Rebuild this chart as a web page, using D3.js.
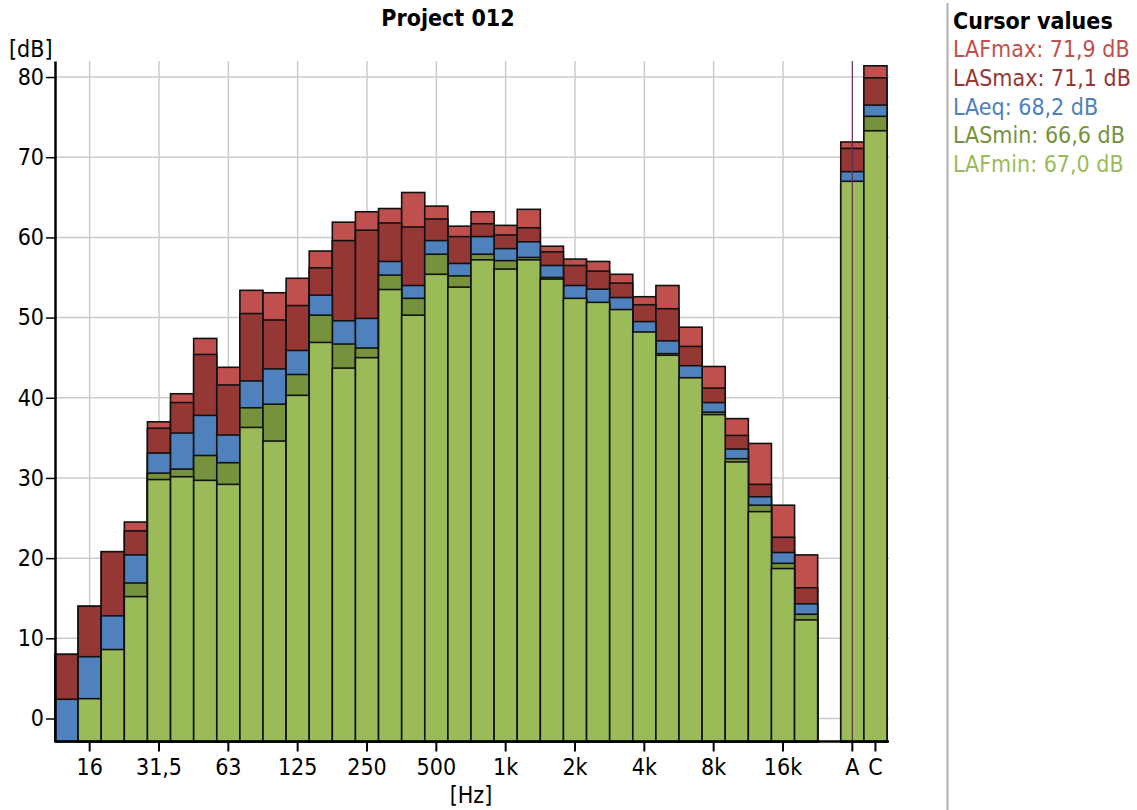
<!DOCTYPE html>
<html lang="en">
<head>
    <meta charset="UTF-8">
    <title>Project 012</title>
    <style>
        body {
            margin: 0;
            padding: 0;
            background-color: #ffffff;
            font-family: "DejaVu Sans Condensed", "DejaVu Sans", sans-serif;
        }
        svg text {
            font-family: "DejaVu Sans Condensed", "DejaVu Sans", sans-serif;
        }
    </style>
</head>
<body>
    <svg width="1137" height="810"></svg>

    <script src="https://d3js.org/d3.v7.min.js"></script>
    <script>
        // third-octave bands, then the broadband A and C values
        let bands = ["12,5", "16", "20", "25", "31,5", "40", "50", "63", "80", "100", "125",
            "160", "200", "250", "315", "400", "500", "630", "800", "1k", "1,25k", "1,6k",
            "2k", "2,5k", "3,15k", "4k", "5k", "6,3k", "8k", "10k", "12,5k", "16k", "20k"];
        let totals = ["A", "C"];
        let tickLabels = ["16", "31,5", "63", "125", "250", "500", "1k", "2k", "4k", "8k", "16k", "A", "C"];
        let gridLabels = ["16", "31,5", "63", "125", "250", "500", "1k", "2k", "4k", "8k", "16k"];
        let yTicks = [0, 10, 20, 30, 40, 50, 60, 70, 80];

        let lafmax = [8.0, 14.0, 20.8, 24.5, 37.0, 40.5, 47.4, 43.8, 53.4, 53.1, 54.9,
            58.3, 61.9, 63.2, 63.6, 65.6, 63.9, 61.4, 63.2, 61.5, 63.5, 58.9,
            57.3, 57.0, 55.4, 52.6, 54.0, 48.8, 43.9, 37.4, 34.3, 26.6, 20.4,
            71.9, 81.4];
        let lasmax = [8.0, 14.0, 20.8, 23.4, 36.2, 39.4, 45.4, 41.6, 50.5, 49.7, 51.5,
            56.2, 59.6, 60.9, 61.8, 61.3, 62.3, 60.1, 61.7, 60.3, 61.2, 58.2,
            56.5, 55.8, 54.3, 51.6, 51.1, 46.4, 41.2, 35.3, 29.2, 22.6, 16.3,
            71.1, 79.9];
        let laeq = [2.4, 7.7, 12.8, 20.4, 33.1, 35.6, 37.8, 35.35, 42.1, 43.6, 45.9,
            52.8, 49.6, 49.9, 57.0, 54.0, 59.6, 56.75, 60.1, 58.6, 59.45, 56.5,
            54.0, 53.55, 52.5, 49.5, 47.1, 44.0, 39.4, 33.6, 27.65, 20.7, 14.3,
            68.2, 76.5];
        let lasmin = [-4.0, 2.0, 8.0, 16.9, 30.6, 31.1, 32.8, 31.9, 38.75, 39.2, 42.9,
            50.3, 46.7, 46.2, 55.3, 52.4, 57.9, 55.2, 57.9, 57.1, 57.5, 55.0,
            52.2, 51.6, 50.8, 48.0, 45.5, 42.3, 38.2, 32.4, 26.6, 19.35, 13.0,
            66.6, 75.1];
        let lafmin = [-4.0, 2.47, 8.6, 15.2, 29.8, 30.15, 29.7, 29.2, 36.3, 34.6, 40.3,
            46.9, 43.7, 45.0, 53.5, 50.3, 55.4, 53.8, 57.2, 56.05, 57.2, 54.8,
            52.4, 51.9, 51.0, 48.2, 45.3, 42.5, 37.9, 32.0, 25.8, 18.7, 12.3,
            67.0, 73.3];

        let series = [
            { name: "LAFmax", values: lafmax, color: "#c0504d" },
            { name: "LASmax", values: lasmax, color: "#953735" },
            { name: "LAeq", values: laeq, color: "#4f81bd" },
            { name: "LASmin", values: lasmin, color: "#76923c" },
            { name: "LAFmin", values: lafmin, color: "#9bbb59" }
        ];

        let categories = bands.concat(totals);
        let cursorAt = "A";
        let fontSize = "23px";

        let svg = d3.select("svg");

        // x: one slot per band, an empty slot, then A and C
        let x = d3.scaleBand()
            .domain(bands.concat(["gap"], totals))
            .range([55, 887])
            .padding(0);

        let y = d3.scaleLinear()
            .domain([-2.87, 82])
            .range([741.5, 61])
            .clamp(true);

        // grid
        let grid = svg.append("g").attr("stroke", "#cccccc").attr("stroke-width", 1.5);
        grid.selectAll("line.h")
            .data(yTicks)
            .enter()
            .append("line")
            .attr("x1", 55)
            .attr("x2", 889)
            .attr("y1", d => y(d))
            .attr("y2", d => y(d));
        grid.selectAll("line.v")
            .data(gridLabels)
            .enter()
            .append("line")
            .attr("x1", d => x(d) + x.bandwidth() / 2)
            .attr("x2", d => x(d) + x.bandwidth() / 2)
            .attr("y1", 61)
            .attr("y2", 741.5);

        // bars: each series overlaid on the previous one, all from the bottom
        series.forEach(s => {
            svg.append("g")
                .selectAll("rect")
                .data(categories.map((c, i) => ({ cat: c, v: s.values[i] })))
                .enter()
                .append("rect")
                .attr("x", d => x(d.cat))
                .attr("width", x.bandwidth())
                .attr("y", d => y(d.v))
                .attr("height", d => y(y.domain()[0]) - y(d.v))
                .attr("fill", s.color)
                .attr("stroke", "#111")
                .attr("stroke-width", 1.6);
        });

        // cursor line
        svg.append("line")
            .attr("x1", x(cursorAt) + x.bandwidth() / 2)
            .attr("x2", x(cursorAt) + x.bandwidth() / 2)
            .attr("y1", 61)
            .attr("y2", 741.5)
            .attr("stroke", "#5e2a55")
            .attr("stroke-width", 1.2);

        // axes
        let xAxis = d3.axisBottom(x)
            .tickValues(tickLabels)
            .tickSize(10)
            .tickSizeOuter(0);
        let gx = svg.append("g")
            .attr("transform", "translate(0," + y(y.domain()[0]) + ")")
            .call(xAxis);
        gx.select(".domain").attr("stroke", "#000").attr("stroke-width", 2.5)
            .attr("d", "M55,0H889");
        gx.selectAll(".tick line").attr("stroke", "#000").attr("stroke-width", 2);
        gx.selectAll(".tick text")
            .attr("fill", "#000")
            .style("font-size", fontSize)
            .attr("y", 17);

        let yAxis = d3.axisLeft(y)
            .tickValues(yTicks)
            .tickSize(9)
            .tickPadding(2)
            .tickSizeOuter(0);
        let gy = svg.append("g")
            .attr("transform", "translate(55,0)")
            .call(yAxis);
        gy.select(".domain").attr("stroke", "#000").attr("stroke-width", 2.5);
        gy.selectAll(".tick line").attr("stroke", "#000").attr("stroke-width", 1.5);
        gy.selectAll(".tick text")
            .attr("fill", "#000")
            .style("font-size", fontSize);

        // labels
        svg.append("text")
            .attr("x", 448)
            .attr("y", 26)
            .attr("text-anchor", "middle")
            .style("font-size", fontSize)
            .style("font-weight", "bold")
            .text("Project 012");

        svg.append("text")
            .attr("x", 9)
            .attr("y", 57)
            .style("font-size", fontSize)
            .text("[dB]");

        svg.append("text")
            .attr("x", 471)
            .attr("y", 803)
            .attr("text-anchor", "middle")
            .style("font-size", fontSize)
            .text("[Hz]");

        // legend panel
        svg.append("line")
            .attr("x1", 947.5)
            .attr("x2", 947.5)
            .attr("y1", 3)
            .attr("y2", 810)
            .attr("stroke", "#b0b0b0")
            .attr("stroke-width", 2);

        let legend = svg.append("g").attr("transform", "translate(953,0)");
        legend.append("text")
            .attr("x", 0)
            .attr("y", 29)
            .style("font-size", fontSize)
            .style("font-weight", "bold")
            .text("Cursor values");

        let cursorIndex = categories.indexOf(cursorAt);
        legend.selectAll("text.item")
            .data(series)
            .enter()
            .append("text")
            .attr("class", "item")
            .attr("x", 0)
            .attr("y", (d, i) => 57 + i * 28.8)
            .attr("fill", d => d.color)
            .style("font-size", fontSize)
            .text(d => d.name + ": " + d.values[cursorIndex].toFixed(1).replace(".", ",") + " dB");
    </script>
</body>
</html>
